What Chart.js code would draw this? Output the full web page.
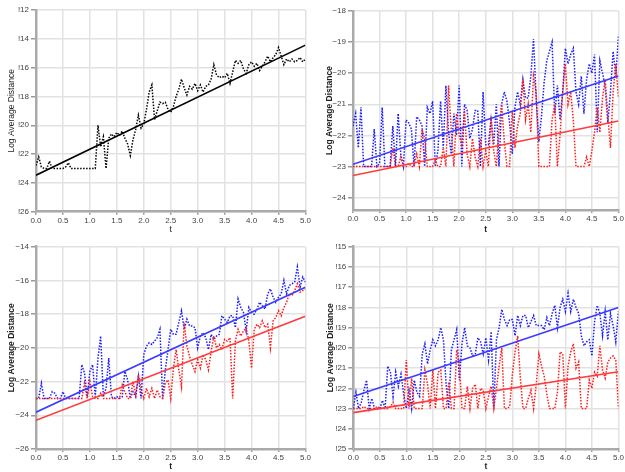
<!DOCTYPE html>
<html><head><meta charset="utf-8">
<script src="https://cdn.jsdelivr.net/npm/chart.js@4"></script>
<style>
html,body{margin:0;padding:0;background:#fff;width:625px;height:472px;overflow:hidden}
canvas{position:absolute}
</style></head><body>
<canvas id="c1" width="312" height="236" style="left:0;top:0"></canvas>
<canvas id="c2" width="313" height="236" style="left:312px;top:0"></canvas>
<canvas id="c3" width="312" height="236" style="left:0;top:236px"></canvas>
<canvas id="c4" width="313" height="236" style="left:312px;top:236px"></canvas>
<script>
// time grid (t)
const times = [0.00,0.05,0.10,0.15,0.20,0.25,0.30,0.35,0.40,0.45,
  0.50,0.55,0.60,0.65,0.70,0.75,0.80,0.85,0.90,0.95,
  1.00,1.05,1.10,1.15,1.20,1.25,1.30,1.35,1.40,1.45,
  1.50,1.55,1.60,1.65,1.70,1.75,1.80,1.85,1.90,1.95,
  2.00,2.05,2.10,2.15,2.20,2.25,2.30,2.35,2.40,2.45,
  2.50,2.55,2.60,2.65,2.70,2.75,2.80,2.85,2.90,2.95,
  3.00,3.05,3.10,3.15,3.20,3.25,3.30,3.35,3.40,3.45,
  3.50,3.55,3.60,3.65,3.70,3.75,3.80,3.85,3.90,3.95,
  4.00,4.05,4.10,4.15,4.20,4.25,4.30,4.35,4.40,4.45,
  4.50,4.55,4.60,4.65,4.70,4.75,4.80,4.85,4.90,4.95,
  5.00];
const xTickStep = 0.5;
const fitT = [0, 5];

// Panel 1 (top left)
const p1Black = [-22.8,-22.2,-22.9,-23.0,-23.0,-22.5,-23.0,-23.0,-23.0,-23.0,
  -23.0,-22.9,-22.6,-23.0,-23.0,-23.0,-23.0,-23.0,-23.0,-23.0,
  -23.0,-23.0,-23.0,-20.0,-21.5,-20.8,-23.0,-20.9,-20.6,-20.8,
  -20.5,-20.7,-20.4,-20.9,-21.3,-22.1,-21.0,-20.3,-19.3,-20.2,
  -19.9,-18.9,-17.7,-17.2,-19.6,-19.0,-18.4,-18.5,-18.4,-18.9,
  -19.1,-18.7,-18.0,-17.5,-16.8,-17.4,-17.9,-17.3,-17.5,-17.1,
  -17.6,-17.2,-17.7,-17.3,-17.2,-16.8,-15.8,-16.5,-16.7,-16.6,
  -16.7,-16.4,-17.1,-16.3,-15.5,-15.7,-15.5,-16.1,-16.4,-15.8,
  -15.6,-15.9,-15.7,-16.2,-15.9,-15.6,-15.2,-15.6,-15.3,-15.1,
  -14.6,-15.2,-15.8,-15.4,-15.6,-15.4,-15.6,-15.5,-15.3,-15.6,
  -15.4];
const p1Fit = [-23.47, -14.44];
const p1YTicks = {min: -26, max: -12, step: 2};

// Panel 2 (top right)
const p2Blue = [-21.7,-21.3,-22.4,-21.1,-23.0,-23.0,-23.0,-23.0,-21.8,-23.0,
  -22.9,-21.1,-23.0,-23.0,-23.0,-21.7,-23.0,-21.3,-22.6,-23.0,
  -21.5,-21.6,-21.8,-23.0,-21.4,-21.5,-21.7,-23.0,-21.1,-21.3,
  -20.9,-23.0,-22.5,-20.9,-22.4,-20.4,-21.9,-22.6,-21.3,-22.0,
  -20.4,-23.0,-21.0,-21.2,-22.1,-21.8,-21.2,-21.2,-23.0,-20.6,
  -22.3,-22.3,-21.5,-22.3,-21.0,-23.0,-21.0,-20.6,-20.9,-21.6,
  -22.6,-21.1,-20.6,-21.0,-20.2,-20.8,-20.8,-20.1,-18.9,-20.8,
  -22.2,-21.4,-20.3,-19.6,-19.3,-19.0,-21.3,-20.4,-21.5,-20.6,
  -19.2,-19.7,-19.4,-19.2,-20.6,-21.0,-20.1,-21.3,-20.2,-19.7,
  -20.0,-19.4,-21.9,-19.6,-20.0,-20.4,-21.6,-20.6,-19.3,-20.1,
  -18.8];
const p2Red = [-23.0,-23.0,-23.0,-23.0,-23.0,-23.0,-23.0,-23.0,-23.0,-23.0,
  -23.0,-23.0,-23.0,-23.0,-23.0,-22.4,-23.0,-23.0,-22.7,-23.0,
  -23.0,-22.9,-23.0,-23.0,-22.6,-23.0,-21.8,-22.1,-23.0,-23.0,
  -23.0,-22.8,-23.0,-23.0,-22.4,-23.0,-20.4,-21.8,-23.0,-21.3,
  -22.0,-22.3,-21.2,-22.6,-23.0,-22.1,-22.7,-23.0,-22.1,-23.0,
  -22.5,-23.0,-21.4,-22.5,-23.0,-21.8,-21.0,-22.2,-23.0,-23.0,
  -21.2,-22.4,-21.7,-21.3,-20.2,-21.5,-21.0,-21.9,-20.1,-20.6,
  -23.0,-23.0,-23.0,-23.0,-23.0,-21.5,-21.0,-23.0,-22.0,-20.6,
  -19.7,-21.0,-20.6,-21.5,-23.0,-23.0,-23.0,-23.0,-22.7,-23.0,
  -22.5,-21.9,-21.1,-21.9,-20.8,-20.2,-21.4,-22.4,-20.6,-19.7,
  -20.8];
const p2BlueFit = [-22.93, -20.09];
const p2RedFit = [-23.29, -21.54];
const p2YTicks = {min: -24.4, max: -18, step: 1};

// Panel 3 (bottom left)
const p3Blue = [-23.0,-23.0,-22.1,-23.0,-23.0,-23.0,-22.6,-22.7,-23.0,-23.0,
  -22.6,-23.0,-23.0,-23.0,-23.0,-23.0,-23.0,-21.0,-21.5,-22.9,
  -21.4,-21.0,-22.9,-20.6,-19.3,-22.9,-22.4,-20.6,-22.9,-23.0,
  -22.9,-23.0,-22.9,-21.4,-21.9,-23.0,-22.6,-22.9,-21.7,-23.0,
  -20.4,-19.9,-19.7,-19.8,-19.6,-19.4,-18.9,-23.0,-21.3,-20.1,
  -18.9,-19.2,-19.2,-18.5,-17.8,-18.9,-18.3,-18.7,-18.7,-18.8,
  -20.0,-19.3,-19.1,-19.4,-20.1,-19.2,-19.5,-19.3,-19.2,-18.1,
  -18.3,-18.5,-18.1,-18.1,-18.8,-17.1,-17.6,-17.9,-19.0,-17.6,
  -17.9,-18.0,-17.7,-17.3,-17.5,-17.7,-16.8,-16.5,-17.0,-17.3,
  -17.0,-16.8,-16.0,-16.8,-16.3,-16.2,-16.1,-15.2,-16.4,-15.8,
  -16.1];
const p3Red = [-23.0,-23.0,-23.0,-23.0,-23.0,-23.0,-23.0,-23.0,-23.0,-23.0,
  -23.0,-23.0,-23.0,-23.0,-23.0,-23.0,-23.0,-23.0,-22.1,-23.0,
  -22.0,-22.9,-23.0,-23.0,-22.7,-23.0,-23.0,-23.0,-23.0,-23.0,
  -23.0,-23.0,-22.2,-22.6,-23.0,-23.0,-22.0,-22.8,-21.6,-22.4,
  -23.0,-22.4,-22.9,-22.4,-23.0,-22.5,-22.9,-23.0,-22.1,-21.9,
  -23.0,-21.2,-20.1,-21.3,-22.3,-18.5,-19.9,-20.5,-21.0,-21.4,
  -20.7,-21.2,-20.4,-20.7,-21.3,-20.2,-19.3,-20.0,-19.8,-20.1,
  -19.5,-19.6,-19.4,-23.0,-19.6,-18.9,-19.3,-19.0,-18.8,-19.6,
  -21.2,-18.9,-18.6,-18.8,-18.4,-18.8,-18.6,-20.0,-18.4,-18.2,
  -17.8,-18.1,-17.6,-17.3,-16.8,-16.9,-16.6,-16.2,-16.7,-16.6,
  -16.5];
const p3BlueFit = [-23.82, -16.40];
const p3RedFit = [-24.30, -18.13];
const p3YTicks = {min: -26, max: -14, step: 2};

// Panel 4 (bottom right)
const p4Blue = [-23.0,-22.2,-23.0,-22.7,-22.1,-21.6,-23.0,-22.5,-23.0,-23.0,
  -23.0,-22.6,-23.0,-20.9,-21.2,-22.4,-21.2,-21.9,-21.3,-22.3,
  -23.0,-22.1,-23.0,-21.6,-22.2,-22.4,-20.3,-19.8,-20.8,-20.1,
  -19.6,-19.9,-19.6,-19.0,-19.6,-21.8,-23.0,-20.1,-19.6,-19.1,
  -21.6,-19.8,-19.0,-19.9,-20.0,-20.4,-20.3,-19.5,-19.7,-20.3,
  -19.5,-20.6,-19.2,-23.0,-19.6,-19.0,-18.1,-18.6,-18.9,-18.6,
  -18.6,-19.4,-18.4,-18.9,-18.4,-18.4,-19.0,-18.7,-18.4,-18.9,
  -18.9,-18.9,-19.1,-18.5,-18.9,-18.3,-17.9,-19.0,-18.0,-17.6,
  -18.2,-17.3,-18.2,-17.6,-18.0,-18.3,-19.4,-19.9,-19.7,-19.6,
  -20.4,-18.7,-17.9,-18.3,-19.4,-18.2,-19.6,-18.3,-18.9,-19.7,
  -18.2];
const p4Red = [-23.0,-23.0,-23.0,-23.0,-22.9,-23.0,-23.0,-23.0,-23.0,-22.9,
  -23.0,-23.0,-23.0,-23.0,-22.9,-22.7,-23.0,-23.0,-23.0,-23.0,
  -20.6,-23.0,-21.5,-23.0,-23.0,-23.0,-23.0,-21.1,-21.8,-23.0,
  -21.1,-23.0,-21.2,-21.1,-23.0,-23.0,-21.7,-23.0,-23.0,-20.1,
  -20.8,-23.0,-23.0,-21.9,-23.0,-22.0,-21.8,-23.0,-22.0,-22.1,
  -23.0,-22.4,-21.9,-23.0,-22.0,-20.9,-20.0,-23.0,-23.0,-22.9,
  -21.3,-20.2,-19.4,-21.5,-23.0,-23.0,-22.5,-22.1,-23.0,-21.8,
  -20.3,-20.9,-21.4,-22.3,-23.0,-23.0,-23.0,-22.2,-20.2,-20.3,
  -23.0,-20.9,-20.2,-19.8,-21.0,-20.7,-23.0,-23.0,-23.0,-21.6,
  -22.0,-21.2,-21.4,-19.9,-21.1,-21.5,-20.7,-20.5,-20.4,-20.6,
  -23.0];
const p4BlueFit = [-22.41, -18.00];
const p4RedFit = [-23.20, -21.18];
const p4YTicks = {min: -25, max: -15, step: 1};

const yTitle = 'Log Average Distance';
const xTitle = 't';

const FONT = '"Liberation Sans", Arial, Helvetica, sans-serif';

function makePanel(id, o) {
  const datasets = [];
  o.series.forEach(s => datasets.push({
    data: s.values, borderColor: s.color, borderWidth: 1.5, borderDash: [1.5, 1.5],
    pointRadius: 0, tension: 0, fill: false, order: s.order
  }));
  o.fits.forEach(f => datasets.push({
    data: fitT.map((t, i) => ({x: t, y: f.values[i]})),
    borderColor: f.color, borderWidth: 1.6, pointRadius: 0, fill: false, order: 0
  }));
  const weight = o.bold ? 'bold' : 'normal';
  new Chart(document.getElementById(id), {
    type: 'line',
    data: {labels: times, datasets},
    options: {
      responsive: false, animation: false, devicePixelRatio: 1,
      layout: {padding: {top: o.padTop, right: o.padRight, left: 0, bottom: 0}},
      plugins: {legend: {display: false}, tooltip: {enabled: false}},
      scales: {
        x: {
          type: 'linear', min: 0, max: 5,
          afterFit: s => { s.height = o.xH; },
          ticks: {stepSize: xTickStep, callback: v => v.toFixed(1), font: {family: FONT, size: 8}, color: '#444', padding: 1, maxRotation: 0, autoSkip: false},
          grid: {color: '#e2e2e2', lineWidth: 1.5, tickLength: 3, tickColor: '#999'},
          border: {color: '#aaaaaa', width: 2.5},
          title: {display: true, text: xTitle, font: {family: FONT, size: 8.5, weight}, color: '#222', padding: {top: 0, bottom: o.xTitlePad}}
        },
        y: {
          min: o.yTicks.min, max: o.yTicks.max,
          afterFit: s => { s.width = o.yW; },
          ticks: {stepSize: o.yTicks.step, includeBounds: false,
            callback: v => (v < 0 ? o.minus : '') + Math.abs(v),
            font: {family: FONT, size: 8}, color: '#444', padding: 2},
          grid: {color: '#e2e2e2', lineWidth: 1.5, tickLength: 5, tickColor: '#999'},
          border: {color: '#aaaaaa', width: 2.5},
          title: {display: true, text: yTitle, font: {family: FONT, size: 8.5, weight}, color: '#222', padding: {top: o.yTitlePad, bottom: 0}}
        }
      }
    }
  });
}

makePanel('c1', {
  series: [{values: p1Black, color: '#000000', order: 1}],
  fits: [{values: p1Fit, color: '#000000'}],
  yTicks: p1YTicks, minus: '!', bold: false,
  padTop: 10, padRight: 5.5, yW: 36, xH: 24.3, yTitlePad: 7, xTitlePad: 1
});
makePanel('c2', {
  series: [{values: p2Red, color: '#ff1a1a', order: 1}, {values: p2Blue, color: '#1a1aff', order: 2}],
  fits: [{values: p2BlueFit, color: '#3b3bff'}, {values: p2RedFit, color: '#ff3b3b'}],
  yTicks: p2YTicks, minus: '\u2212', bold: true,
  padTop: 11, padRight: 1, yW: 41, xH: 26, yTitlePad: 13, xTitlePad: 1
});
makePanel('c3', {
  series: [{values: p3Red, color: '#ff1a1a', order: 1}, {values: p3Blue, color: '#1a1aff', order: 2}],
  fits: [{values: p3BlueFit, color: '#3b3bff'}, {values: p3RedFit, color: '#ff3b3b'}],
  yTicks: p3YTicks, minus: '\u2212', bold: true,
  padTop: 10.7, padRight: 6, yW: 36, xH: 23, yTitlePad: 7, xTitlePad: 0
});
makePanel('c4', {
  series: [{values: p4Red, color: '#ff1a1a', order: 1}, {values: p4Blue, color: '#1a1aff', order: 2}],
  fits: [{values: p4BlueFit, color: '#3b3bff'}, {values: p4RedFit, color: '#ff3b3b'}],
  yTicks: p4YTicks, minus: '!', bold: true,
  padTop: 10.7, padRight: 2, yW: 41.3, xH: 23, yTitlePad: 13.5, xTitlePad: 0
});
</script>
</body></html>
